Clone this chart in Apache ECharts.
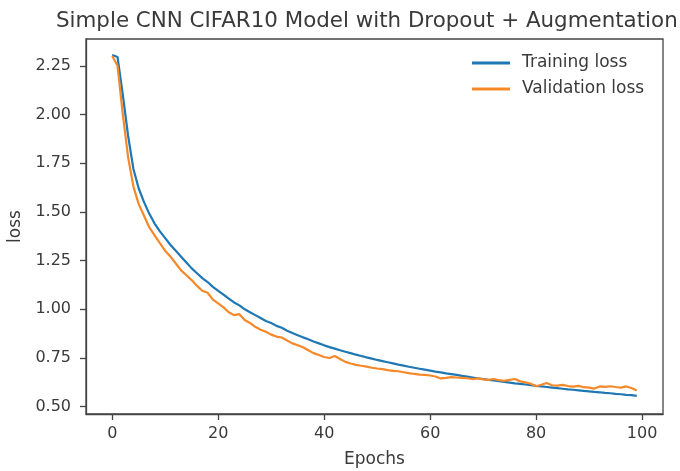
<!DOCTYPE html>
<html lang="en">
<head>
    <meta charset="utf-8" />
    <title>Simple CNN CIFAR10 Model with Dropout + Augmentation</title>
    <script type="text/javascript" src="https://cdn.jsdelivr.net/npm/echarts@6.0.0/dist/echarts.min.js"></script>
    <style type="text/css">
        body { margin: 0; background: #fff; }
    </style>
</head>
<body>
    <div id="main" style="width:680px;height:471px;"></div>
    <script type="text/javascript">
        // values, one per epoch (0..99)
        var training_loss = [
            2.305, 2.295, 2.10, 1.89, 1.72, 1.62, 1.55, 1.49, 1.44, 1.40,
            1.365, 1.33, 1.30, 1.27, 1.24, 1.21, 1.185, 1.16, 1.14, 1.115,
            1.095, 1.075, 1.055, 1.035, 1.02, 1.00, 0.985, 0.97, 0.955, 0.94,
            0.93, 0.915, 0.905, 0.89, 0.878, 0.867, 0.856, 0.846, 0.835, 0.825,
            0.815, 0.806, 0.798, 0.790, 0.782, 0.775, 0.767, 0.760, 0.753, 0.747,
            0.740, 0.734, 0.728, 0.722, 0.716, 0.711, 0.705, 0.700, 0.695, 0.690,
            0.685, 0.680, 0.676, 0.671, 0.667, 0.663, 0.658, 0.654, 0.650, 0.646,
            0.642, 0.638, 0.635, 0.631, 0.627, 0.624, 0.620, 0.617, 0.614, 0.611,
            0.607, 0.604, 0.601, 0.598, 0.595, 0.592, 0.589, 0.587, 0.584, 0.581,
            0.579, 0.576, 0.574, 0.571, 0.569, 0.566, 0.564, 0.561, 0.559, 0.556
        ];
        var validation_loss = [
            2.30, 2.25, 2.00, 1.78, 1.63, 1.54, 1.48, 1.42, 1.38, 1.34,
            1.30, 1.27, 1.235, 1.20, 1.175, 1.15, 1.12, 1.095, 1.085, 1.05,
            1.03, 1.01, 0.985, 0.97, 0.975, 0.945, 0.93, 0.91, 0.895, 0.885,
            0.87, 0.86, 0.855, 0.84, 0.825, 0.815, 0.805, 0.79, 0.775, 0.765,
            0.755, 0.75, 0.76, 0.745, 0.73, 0.722, 0.715, 0.71, 0.706, 0.70,
            0.696, 0.693, 0.688, 0.684, 0.682, 0.677, 0.672, 0.668, 0.665, 0.663,
            0.66, 0.655, 0.645, 0.648, 0.652, 0.650, 0.648, 0.646, 0.642, 0.645,
            0.640, 0.638, 0.642, 0.636, 0.633, 0.638, 0.642, 0.630, 0.625, 0.618,
            0.605, 0.613, 0.622, 0.610, 0.608, 0.612, 0.606, 0.603, 0.607, 0.600,
            0.598, 0.593, 0.604, 0.602, 0.605, 0.601, 0.598, 0.604, 0.596, 0.583
        ];
        var x_ticks = [0, 20, 40, 60, 80, 100];
        var y_ticks = [0.50, 0.75, 1.00, 1.25, 1.50, 1.75, 2.00, 2.25];

        var series_names = ['Training loss', 'Validation loss'];
        var font = 'DejaVu Sans';
        var ink = '#3a3a3a';
        var frame = '#444';

        function toPairs(arr) {
            var out = [];
            for (var i = 0; i < arr.length; i++) out.push([i, arr[i]]);
            return out;
        }

        var myChart = echarts.init(document.getElementById('main'), null, { renderer: 'canvas' });

        var option = {
            animation: false,
            backgroundColor: '#fff',
            title: {
                text: 'Simple CNN CIFAR10 Model with Dropout + Augmentation',
                left: 56,
                top: 11,
                padding: 0,
                textStyle: { fontFamily: font, fontSize: 21.4, fontWeight: 'normal', color: ink }
            },
            legend: {
                data: series_names,
                orient: 'vertical',
                left: 472,
                top: 53,
                padding: 0,
                icon: 'rect',
                itemWidth: 38,
                itemHeight: 3,
                itemGap: 6,
                textStyle: { fontFamily: font, fontSize: 17, color: ink, lineHeight: 20, padding: [0, 0, 0, 7] }
            },
            grid: {
                left: 86, right: 17, top: 39, bottom: 57,
                outerBoundsMode: 'none',
                containLabel: false,
                show: true,
                borderColor: frame,
                borderWidth: 1.3
            },
            xAxis: {
                type: 'value',
                min: -4.95,
                max: 103.95,
                name: 'Epochs',
                nameLocation: 'middle',
                nameGap: 37,
                nameTextStyle: { fontFamily: font, fontSize: 17, color: ink },
                axisLine: { show: true, onZero: false, lineStyle: { color: frame, width: 1.3 } },
                axisTick: { show: true, length: 6, customValues: x_ticks, lineStyle: { color: frame, width: 1.3 } },
                axisLabel: { customValues: x_ticks, margin: 12, fontFamily: font, fontSize: 16, color: ink },
                splitLine: { show: false }
            },
            yAxis: {
                type: 'value',
                min: 0.4625,
                max: 2.3875,
                name: 'loss',
                nameLocation: 'middle',
                nameGap: 62,
                nameTextStyle: { fontFamily: font, fontSize: 17, color: ink },
                axisLine: { show: true, onZero: false, lineStyle: { color: frame, width: 1.3 } },
                axisTick: { show: true, length: 6, customValues: y_ticks, lineStyle: { color: frame, width: 1.3 } },
                axisLabel: {
                    customValues: y_ticks, margin: 15, fontFamily: font, fontSize: 16, color: ink,
                    formatter: function (v) { return v.toFixed(2); }
                },
                splitLine: { show: false }
            },
            series: [{
                name: series_names[0],
                type: 'line',
                showSymbol: false,
                data: toPairs(training_loss),
                color: '#1f77b4',
                lineStyle: { width: 2.2 },
                z: 2
            }, {
                name: series_names[1],
                type: 'line',
                showSymbol: false,
                data: toPairs(validation_loss),
                color: '#f5892a',
                lineStyle: { width: 2.2 },
                z: 3
            }]
        };
        myChart.setOption(option);
    </script>
</body>
</html>
